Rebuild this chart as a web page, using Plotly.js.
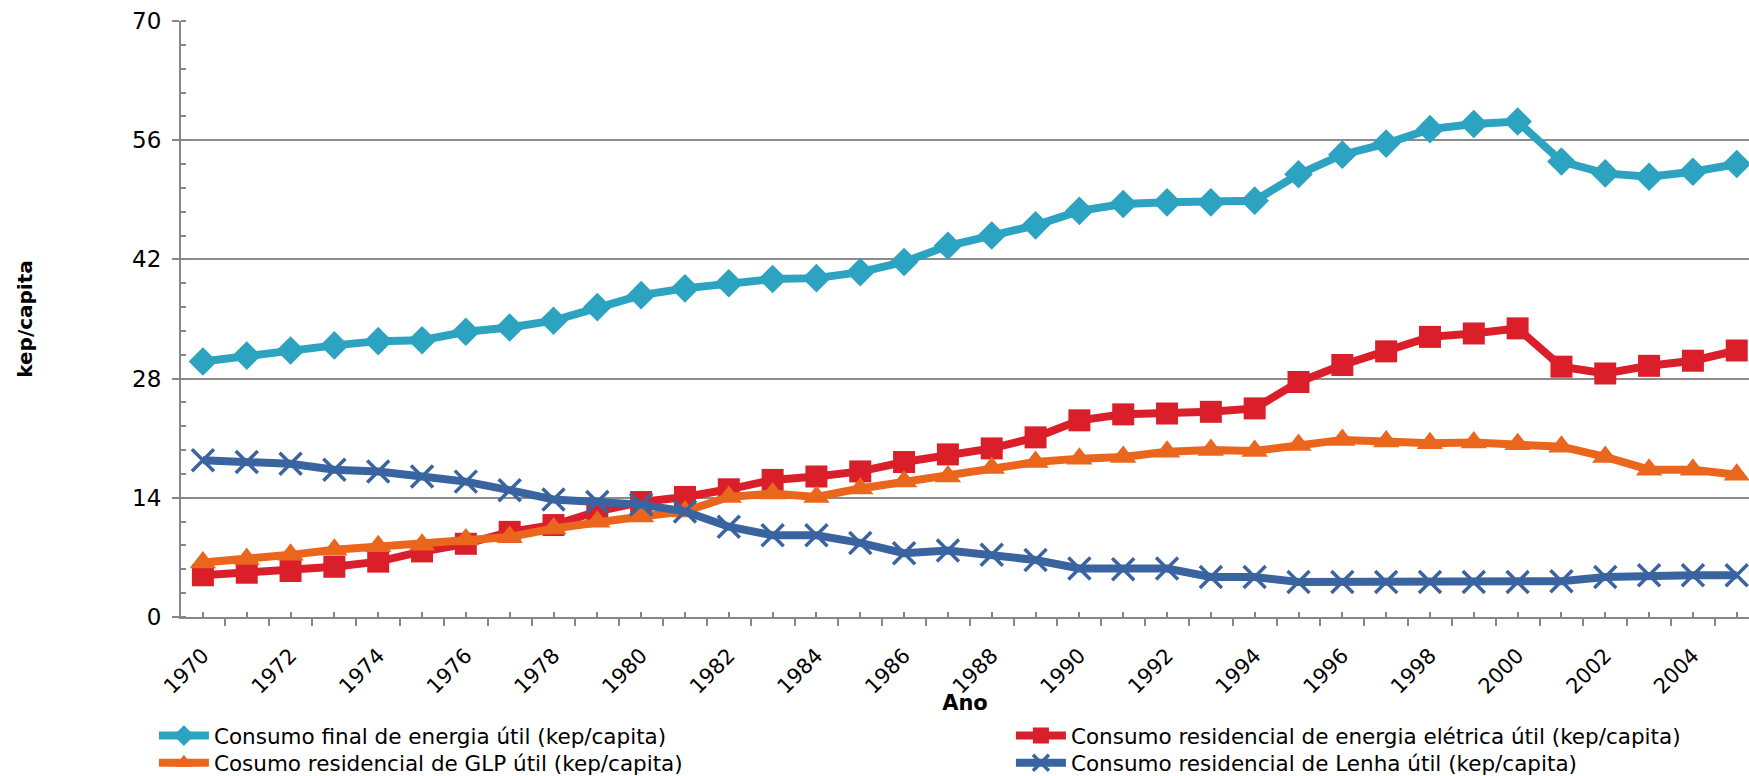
<!DOCTYPE html>
<html>
<head>
<meta charset="utf-8">
<script src="https://cdn.plot.ly/plotly-3.0.1.min.js"></script>
<style>html,body{margin:0;padding:0;background:#fff}#chart{width:1749px;height:776px}</style>
</head>
<body>
<div id="chart"></div>
<script>
const years = [1970,1971,1972,1973,1974,1975,1976,1977,1978,1979,1980,1981,1982,1983,1984,1985,1986,1987,1988,1989,1990,1991,1992,1993,1994,1995,1996,1997,1998,1999,2000,2001,2002,2003,2004,2005];
const yearLabels = ["1970","","1972","","1974","","1976","","1978","","1980","","1982","","1984","","1986","","1988","","1990","","1992","","1994","","1996","","1998","","2000","","2002","","2004",""];
const consumoFinal = [30.0,30.7,31.3,31.9,32.4,32.5,33.5,34.0,34.8,36.4,37.8,38.6,39.2,39.7,39.8,40.5,41.7,43.6,44.8,46.0,47.7,48.5,48.7,48.7,48.9,52.0,54.3,55.6,57.3,57.9,58.2,53.5,52.1,51.7,52.3,53.2];
const energiaEletrica = [4.9,5.2,5.4,5.9,6.5,7.7,8.6,10.0,10.8,12.4,13.5,14.1,15.0,16.1,16.5,17.1,18.2,19.1,19.8,21.1,23.1,23.8,23.9,24.1,24.5,27.6,29.6,31.2,32.9,33.3,33.9,29.4,28.6,29.5,30.1,31.3];
const glp = [6.4,6.8,7.3,7.9,8.3,8.5,9.1,9.4,10.4,11.2,11.8,12.4,14.1,14.5,14.1,15.1,15.9,16.5,17.5,18.2,18.6,18.8,19.4,19.6,19.5,20.2,20.8,20.6,20.4,20.5,20.3,20.0,18.8,17.3,17.3,16.7];
const lenha = [18.4,18.2,18.0,17.3,17.1,16.5,15.9,14.9,13.8,13.5,13.2,12.4,10.6,9.6,9.6,8.7,7.5,7.8,7.3,6.7,5.7,5.6,5.7,4.7,4.7,4.1,4.1,4.1,4.1,4.1,4.1,4.2,4.7,4.9,4.9,4.9];
const yTicks = [0,14,28,42,56,70];

const names = [
  "Consumo final de energia útil (kep/capita)",
  "Consumo residencial de energia elétrica útil (kep/capita)",
  "Cosumo residencial de GLP útil (kep/capita)",
  "Consumo residencial de Lenha útil (kep/capita)"
];
const FONT = "DejaVu Sans, sans-serif";

const traces = [
  {x: years, y: consumoFinal, name: names[0], legend: "legend", type: "scatter", mode: "lines+markers",
   line: {color: "#2CA3C0", width: 8}, marker: {symbol: "diamond", size: 22, color: "#2CA3C0"}, cliponaxis: false},
  {x: years, y: energiaEletrica, name: names[1], legend: "legend2", type: "scatter", mode: "lines+markers",
   line: {color: "#DA1F2B", width: 8}, marker: {symbol: "square", size: 22, color: "#DA1F2B"}, cliponaxis: false},
  {x: years, y: glp, name: names[2], legend: "legend3", type: "scatter", mode: "lines+markers",
   line: {color: "#EA661D", width: 8}, marker: {symbol: "triangle-up", size: 23, color: "#EA661D"}, cliponaxis: false},
  {x: years, y: lenha, name: names[3], legend: "legend4", type: "scatter", mode: "lines+markers",
   line: {color: "#3A64A0", width: 8}, marker: {symbol: "x-thin-open", size: 22, color: "#3A64A0", line: {color: "#3A64A0", width: 3.5}}, cliponaxis: false}
];

const legendBase = {orientation: "h", xref: "container", yref: "container", xanchor: "left", yanchor: "middle",
  bgcolor: "rgba(0,0,0,0)", font: {family: FONT, size: 21.5, color: "#000"}, itemclick: false, itemwidth: 50};

const layout = {
  width: 1749, height: 776,
  margin: {l: 181, r: 0, t: 21, b: 159},
  paper_bgcolor: "#fff", plot_bgcolor: "#fff",
  font: {family: FONT, color: "#000"},
  xaxis: {
    range: [1969.5, 2005.28], tickmode: "array", tickvals: years, ticktext: yearLabels,
    tickangle: -45, tickfont: {family: FONT, size: 21, color: "#000"},
    ticks: "inside", ticklen: 5, tickwidth: 1.5, tickcolor: "#868686", ticklabelstandoff: 16,
    minor: {tickvals: years.map(v => v - 0.5), ticks: "outside", ticklen: 7, tickwidth: 1.5, tickcolor: "#868686", showgrid: false},
    showgrid: false, zeroline: false, showline: true, linecolor: "#868686", linewidth: 2,
    title: {text: "<b>Ano</b>", font: {family: FONT, size: 21, color: "#000"}, standoff: 0}
  },
  yaxis: {
    range: [0, 70], tickmode: "array", tickvals: yTicks,
    tickfont: {family: FONT, size: 23, color: "#000"},
    ticks: "outside", ticklen: 7, tickwidth: 1.5, tickcolor: "#868686", ticklabelstandoff: 6,
    minor: {tick0: 0, dtick: 2.8, ticks: "inside", ticklen: 5, tickwidth: 1.5, tickcolor: "#868686", showgrid: false},
    showgrid: true, gridcolor: "#8c8c8c", gridwidth: 1.5,
    zeroline: false, showline: true, linecolor: "#868686", linewidth: 2,
    title: {text: "<b>kep/capita</b>", font: {family: FONT, size: 20, color: "#000"}, standoff: 94}
  },
  legend: Object.assign({}, legendBase, {x: 0.088, y: 0.052}),
  legend2: Object.assign({}, legendBase, {x: 0.578, y: 0.052}),
  legend3: Object.assign({}, legendBase, {x: 0.088, y: 0.017}),
  legend4: Object.assign({}, legendBase, {x: 0.578, y: 0.017}),
  showlegend: true
};

Plotly.newPlot("chart", traces, layout, {displayModeBar: false, responsive: false});
</script>
</body>
</html>
